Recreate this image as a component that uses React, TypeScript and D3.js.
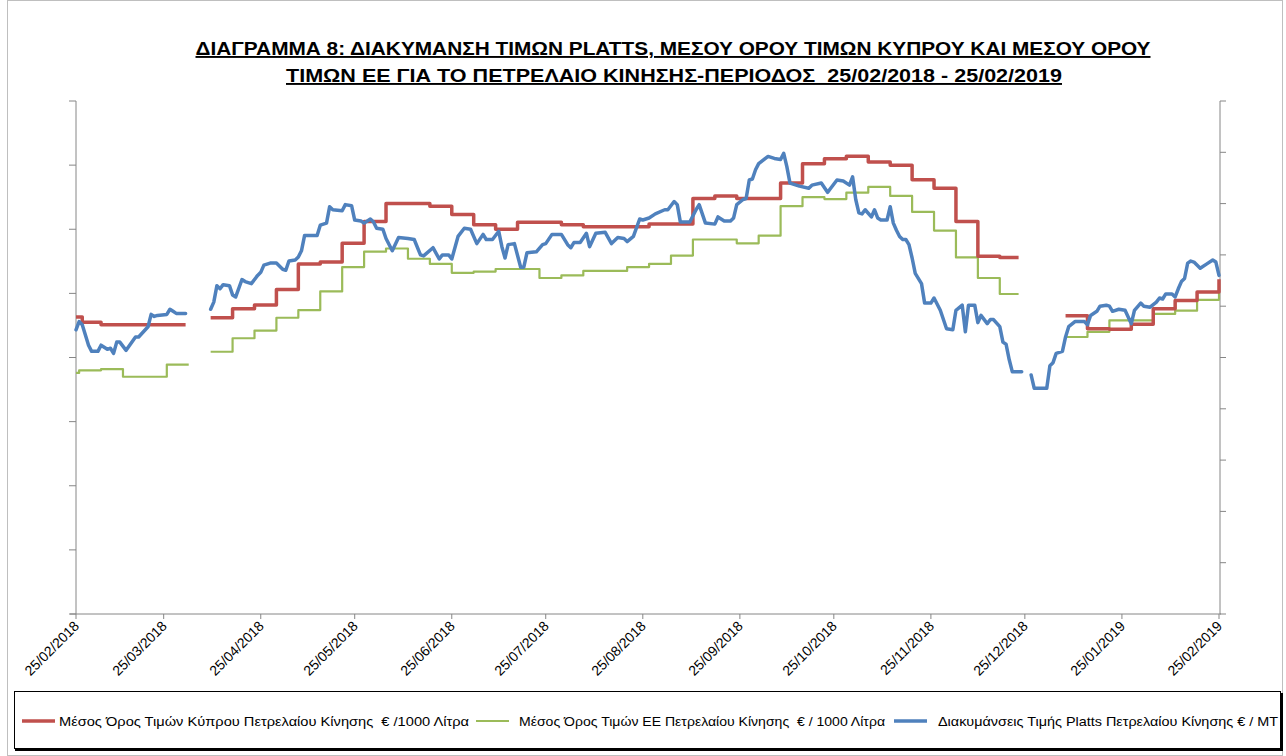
import React from "react";
import * as d3 from "d3";

// Διάγραμμα 8 — Platts vs μέσος όρος Κύπρου / ΕΕ, πετρέλαιο κίνησης
// Values (the y axes have no labels there).

const W = 1286;
const H = 756;
const M = { left: 76, right: 1219, top: 101, bottom: 614 };

const TITLE_1 = "ΔΙΑΓΡΑΜΜΑ 8: ΔΙΑΚΥΜΑΝΣΗ ΤΙΜΩΝ PLATTS, ΜΕΣΟΥ ΟΡΟΥ ΤΙΜΩΝ ΚΥΠΡΟΥ ΚΑΙ ΜΕΣΟΥ ΟΡΟΥ";
const TITLE_2 = "ΤΙΜΩΝ ΕΕ ΓΙΑ ΤΟ ΠΕΤΡΕΛΑΙΟ ΚΙΝΗΣΗΣ-ΠΕΡΙΟΔΟΣ  25/02/2018 - 25/02/2019";

const tickDates = [
  "2018-02-25", "2018-03-25", "2018-04-25", "2018-05-25", "2018-06-25", "2018-07-25",
  "2018-08-25", "2018-09-25", "2018-10-25", "2018-11-25", "2018-12-25", "2019-01-25", "2019-02-25",
];

// Cyprus average, €/1000 L (weekly steps); null = gap in the source
const cyprusDates = [
  "2018-02-25", "2018-02-27", "2018-03-05", "2018-04-01", "2018-04-05",
  "2018-04-09", "2018-04-16", "2018-04-23", "2018-04-30", "2018-05-07", "2018-05-14", "2018-05-21",
  "2018-05-28", "2018-06-04", "2018-06-18", "2018-06-25", "2018-07-02", "2018-07-09", "2018-07-16",
  "2018-07-30", "2018-08-06", "2018-08-27", "2018-09-10", "2018-09-17", "2018-09-24", "2018-10-08",
  "2018-10-15", "2018-10-22", "2018-10-29", "2018-11-05", "2018-11-12", "2018-11-19", "2018-11-26",
  "2018-12-03", "2018-12-10", "2018-12-17", "2018-12-23", "2018-12-30",
  "2019-01-07", "2019-01-14", "2019-01-21", "2019-01-28", "2019-02-04", "2019-02-11", "2019-02-18",
  "2019-02-24", "2019-02-25",
];
const cyprusValues = [
  1063, 1055, 1051, 1051, null,
  1062, 1076, 1082, 1106, 1146, 1149, 1178,
  1212, 1240, 1236, 1223, 1207, 1200, 1211,
  1207, 1204, 1208, 1248, 1252, 1248, 1272,
  1302, 1310, 1314, 1305, 1300, 1277, 1264,
  1212, 1158, 1156, 1156, null,
  1065, 1045, 1044, 1052, 1076, 1089, 1102,
  1102, 1122,
];

// EU average, €/1000 L
const euDates = [
  "2018-02-25", "2018-02-26", "2018-03-05", "2018-03-12", "2018-03-26", "2018-04-02", "2018-04-05",
  "2018-04-09", "2018-04-16", "2018-04-23", "2018-04-30", "2018-05-07", "2018-05-14", "2018-05-21",
  "2018-05-28", "2018-06-04", "2018-06-11", "2018-06-18", "2018-06-25", "2018-07-02", "2018-07-09",
  "2018-07-23", "2018-07-30", "2018-08-06", "2018-08-20", "2018-08-27", "2018-09-03", "2018-09-10",
  "2018-09-24", "2018-10-01", "2018-10-08", "2018-10-15", "2018-10-22", "2018-10-29", "2018-11-05",
  "2018-11-12", "2018-11-19", "2018-11-26", "2018-12-03", "2018-12-10", "2018-12-17", "2018-12-23",
  "2018-12-30",
  "2019-01-07", "2019-01-14", "2019-01-21", "2019-02-04", "2019-02-11", "2019-02-18", "2019-02-24",
  "2019-02-25",
];
const euValues = [
  976, 980, 982, 970, 989, 989, null,
  1009, 1030, 1042, 1062, 1074, 1103, 1141,
  1165, 1170, 1154, 1146, 1132, 1134, 1138,
  1124, 1128, 1135, 1141, 1146, 1159, 1184,
  1178, 1190, 1236, 1250, 1247, 1257, 1266,
  1252, 1227, 1198, 1156, 1124, 1099, 1099,
  null,
  1032, 1040, 1058, 1068, 1073, 1090, 1090,
  1116,
];

// Platts, €/MT (secondary axis)
const plattsDates = [
  "2018-02-25", "2018-02-26", "2018-02-27", "2018-03-01", "2018-03-02", "2018-03-04", "2018-03-05",
  "2018-03-07", "2018-03-08", "2018-03-09", "2018-03-10", "2018-03-11", "2018-03-13", "2018-03-16",
  "2018-03-17", "2018-03-20", "2018-03-21", "2018-03-22", "2018-03-23", "2018-03-26", "2018-03-27",
  "2018-03-28", "2018-03-29", "2018-04-01", "2018-04-05",
  "2018-04-09", "2018-04-10", "2018-04-11", "2018-04-12", "2018-04-13", "2018-04-15", "2018-04-16",
  "2018-04-17", "2018-04-19", "2018-04-20", "2018-04-22", "2018-04-24", "2018-04-25", "2018-04-26",
  "2018-04-28", "2018-04-30", "2018-05-02", "2018-05-03", "2018-05-04", "2018-05-06", "2018-05-07",
  "2018-05-08", "2018-05-09", "2018-05-10", "2018-05-13", "2018-05-14", "2018-05-16", "2018-05-17",
  "2018-05-18", "2018-05-21", "2018-05-22", "2018-05-24", "2018-05-25", "2018-05-27", "2018-05-28",
  "2018-05-30", "2018-05-31", "2018-06-01", "2018-06-03", "2018-06-04", "2018-06-06", "2018-06-08",
  "2018-06-11", "2018-06-13", "2018-06-15", "2018-06-16", "2018-06-19", "2018-06-21", "2018-06-22",
  "2018-06-24", "2018-06-25", "2018-06-27", "2018-06-29", "2018-07-01", "2018-07-03", "2018-07-05",
  "2018-07-06", "2018-07-08", "2018-07-10", "2018-07-11", "2018-07-12", "2018-07-13", "2018-07-15",
  "2018-07-17", "2018-07-18", "2018-07-19", "2018-07-22", "2018-07-24", "2018-07-25", "2018-07-27",
  "2018-07-30", "2018-08-01", "2018-08-02", "2018-08-03", "2018-08-05", "2018-08-07", "2018-08-08",
  "2018-08-10", "2018-08-13", "2018-08-15", "2018-08-17", "2018-08-19", "2018-08-20", "2018-08-22",
  "2018-08-24", "2018-08-25", "2018-08-27", "2018-08-29", "2018-09-01", "2018-09-02", "2018-09-04",
  "2018-09-05", "2018-09-06", "2018-09-09", "2018-09-11", "2018-09-12", "2018-09-14", "2018-09-17",
  "2018-09-18", "2018-09-20", "2018-09-22", "2018-09-23", "2018-09-24", "2018-09-26", "2018-09-27",
  "2018-09-28", "2018-09-29", "2018-09-30", "2018-10-01", "2018-10-04", "2018-10-06", "2018-10-08",
  "2018-10-09", "2018-10-10", "2018-10-11", "2018-10-14", "2018-10-17", "2018-10-18", "2018-10-21",
  "2018-10-23", "2018-10-24", "2018-10-26", "2018-10-28", "2018-10-30", "2018-10-31", "2018-11-01",
  "2018-11-02", "2018-11-03", "2018-11-04", "2018-11-06", "2018-11-07", "2018-11-08", "2018-11-09",
  "2018-11-11", "2018-11-12", "2018-11-13", "2018-11-14", "2018-11-15", "2018-11-16", "2018-11-17",
  "2018-11-18", "2018-11-19", "2018-11-20", "2018-11-22", "2018-11-23", "2018-11-25", "2018-11-26",
  "2018-11-28", "2018-11-30", "2018-12-02", "2018-12-03", "2018-12-05", "2018-12-06", "2018-12-07",
  "2018-12-09", "2018-12-10", "2018-12-11", "2018-12-13", "2018-12-14", "2018-12-15", "2018-12-17",
  "2018-12-18", "2018-12-19", "2018-12-20", "2018-12-21", "2018-12-24", "2018-12-25",
  "2018-12-27", "2018-12-28", "2019-01-01", "2019-01-02", "2019-01-03", "2019-01-04", "2019-01-06",
  "2019-01-07", "2019-01-08", "2019-01-10", "2019-01-13", "2019-01-14", "2019-01-15", "2019-01-17",
  "2019-01-18", "2019-01-20", "2019-01-21", "2019-01-22", "2019-01-24", "2019-01-26", "2019-01-28",
  "2019-01-29", "2019-01-31", "2019-02-01", "2019-02-03", "2019-02-05", "2019-02-06", "2019-02-07",
  "2019-02-08", "2019-02-10", "2019-02-11", "2019-02-12", "2019-02-13", "2019-02-14", "2019-02-15",
  "2019-02-16", "2019-02-17", "2019-02-19", "2019-02-21", "2019-02-23", "2019-02-24", "2019-02-25",
];
const plattsValues = [
  577, 585, 582, 562, 556, 556, 562,
  558, 559, 554, 565, 565, 557, 570,
  570, 580, 592, 590, 591, 592, 597,
  595, 593, 593, null,
  597, 604, 620, 617, 621, 620, 611,
  609, 626, 624, 622, 630, 633, 640,
  642, 642, 636, 635, 644, 645, 648,
  654, 669, 669, 669, 679, 681, 697,
  694, 693, 699, 698, 684, 683, 681,
  685, 682, 676, 675, 666, 654, 667,
  666, 665, 650, 649, 657, 646, 650,
  650, 646, 668, 676, 675, 661, 670,
  665, 665, 673, 658, 647, 660, 661,
  638, 638, 652, 653, 660, 661, 670,
  670, 660, 657, 662, 662, 671, 658,
  671, 672, 661, 667, 666, 663, 668,
  685, 684, 686, 690, 694, 694, 702,
  699, 682, 682, 694, 699, 681, 680,
  687, 683, 683, 686, 699, 704, 705,
  723, 724, 733, 739, 746, 744, 743,
  749, 736, 720, 717, 715, 718, 720,
  711, 715, 723, 722, 718, 726, 704,
  691, 690, 694, 687, 694, 686, 684,
  684, 697, 681, 674, 668, 665, 665,
  660, 647, 632, 622, 603, 603, 608,
  596, 578, 577, 596, 601, 575, 601,
  601, 584, 591, 583, 587, 587, 580,
  565, 563, 548, 536, 536, null,
  533, 520, 520, 542, 545, 554, 556,
  570, 580, 585, 585, 582, 591, 595,
  600, 601, 600, 595, 597, 596, 583,
  596, 603, 600, 599, 604, 608, 607,
  612, 612, 609, 617, 624, 627, 642,
  644, 643, 637, 641, 645, 643, 630,
];

const LEGEND = [
  { label: "Μέσος Όρος Τιμών Κύπρου Πετρελαίου Κίνησης  € /1000 Λίτρα", color: "#C0504D", width: 3.5 },
  { label: "Μέσος Όρος Τιμών ΕΕ Πετρελαίου Κίνησης  € / 1000 Λίτρα", color: "#9BBB59", width: 2.2 },
  { label: "Διακυμάνσεις Τιμής Platts Πετρελαίου Κίνησης € / MT", color: "#4F81BD", width: 3.5 },
];

const AXIS = "#868686";
const FONT = "'Liberation Sans', Arial, sans-serif";

const parse = d3.timeParse("%Y-%m-%d");
const fmt = d3.timeFormat("%d/%m/%Y");

type Pt = [Date, number | null];
const zip = (dates: string[], values: (number | null)[]): Pt[] =>
  dates.map((d, i) => [parse(d) as Date, values[i]]);

export default function App() {
  const x = d3
    .scaleTime()
    .domain([parse("2018-02-25") as Date, parse("2019-02-25") as Date])
    .range([M.left, M.right]);
  const yLeft = d3.scaleLinear().domain([600, 1400]).range([M.bottom, M.top]);
  const yRight = d3.scaleLinear().domain([300, 800]).range([M.bottom, M.top]);

  const stepLine = (y: d3.ScaleLinear<number, number>) =>
    d3
      .line<Pt>()
      .defined((d) => d[1] != null)
      .x((d) => x(d[0]))
      .y((d) => y(d[1] as number))
      .curve(d3.curveStepAfter);

  const cyprusPath = stepLine(yLeft)(zip(cyprusDates, cyprusValues)) ?? "";
  const euPath = stepLine(yLeft)(zip(euDates, euValues)) ?? "";
  const plattsPath =
    d3
      .line<Pt>()
      .defined((d) => d[1] != null)
      .x((d) => x(d[0]))
      .y((d) => yRight(d[1] as number))
      .curve(d3.curveLinear)(zip(plattsDates, plattsValues)) ?? "";

  const rightX = M.right + 1;

  // legend layout (sample start, text start, text width)
  const legendPos = [
    { sx: 22, tx: 59, tw: 410 },
    { sx: 476, tx: 519, tw: 366 },
    { sx: 894, tx: 938, tw: 340 },
  ];

  return (
    <svg
      width={W}
      height={H}
      style={{ position: "absolute", left: 0, top: 0, background: "#fff" }}
      fontFamily={FONT}
    >
      <rect x={7.5} y={0.5} width={1275} height={755} fill="#fff" stroke="#bfbfbf" />

      {/* title */}
      <text
        x={673}
        y={55}
        textAnchor="middle"
        fontSize={19}
        fontWeight="bold"
        textDecoration="underline"
        textLength={955}
        lengthAdjust="spacingAndGlyphs"
        xmlSpace="preserve"
        style={{ whiteSpace: "pre" }}
      >
        {TITLE_1}
      </text>
      <text
        x={674}
        y={82}
        textAnchor="middle"
        fontSize={19}
        fontWeight="bold"
        textDecoration="underline"
        textLength={776}
        lengthAdjust="spacingAndGlyphs"
        xmlSpace="preserve"
        style={{ whiteSpace: "pre" }}
      >
        {TITLE_2}
      </text>

      {/* left axis (€/1000 L), no labels */}
      <line x1={M.left} x2={M.left} y1={M.top} y2={M.bottom} stroke={AXIS} />
      {yLeft.ticks(8).map((t) => (
        <line key={t} x1={M.left - 7} x2={M.left} y1={yLeft(t)} y2={yLeft(t)} stroke={AXIS} />
      ))}

      {/* right axis (€/MT), no labels */}
      <line x1={rightX} x2={rightX} y1={M.top} y2={M.bottom} stroke={AXIS} />
      {yRight.ticks(10).map((t) => (
        <line key={t} x1={rightX} x2={rightX + 6} y1={yRight(t)} y2={yRight(t)} stroke={AXIS} />
      ))}

      {/* date axis */}
      <line x1={M.left - 6} x2={rightX + 1} y1={M.bottom} y2={M.bottom} stroke={AXIS} />
      {tickDates.map((d) => {
        const tx = x(parse(d) as Date);
        return (
          <g key={d}>
            <line x1={tx} x2={tx} y1={M.bottom} y2={M.bottom + 5} stroke={AXIS} />
            <text
              transform={`translate(${tx + 4},${M.bottom + 13}) rotate(-45)`}
              textAnchor="end"
              fontSize={14}
              fill="#000"
            >
              {fmt(parse(d) as Date)}
            </text>
          </g>
        );
      })}

      {/* series */}
      <path d={euPath} fill="none" stroke={LEGEND[1].color} strokeWidth={LEGEND[1].width} strokeLinejoin="round" />
      <path d={cyprusPath} fill="none" stroke={LEGEND[0].color} strokeWidth={LEGEND[0].width} strokeLinejoin="round" />
      <path d={plattsPath} fill="none" stroke={LEGEND[2].color} strokeWidth={LEGEND[2].width} strokeLinejoin="round" strokeLinecap="round" />

      {/* legend */}
      <rect x={14.5} y={691.5} width={1266} height={57} fill="#fff" stroke="#000" />
      <line x1={15} x2={1282} y1={750} y2={750} stroke="#000" strokeWidth={2} />
      <line x1={1282} x2={1282} y1={693} y2={751} stroke="#000" strokeWidth={2} />
      {LEGEND.map((l, i) => {
        const p = legendPos[i];
        return (
          <g key={l.label}>
            <line x1={p.sx} x2={p.sx + 33} y1={721} y2={721} stroke={l.color} strokeWidth={l.width} />
            <text
              x={p.tx}
              y={726}
              fontSize={13}
              textLength={p.tw}
              lengthAdjust="spacingAndGlyphs"
              xmlSpace="preserve"
              style={{ whiteSpace: "pre" }}
            >
              {l.label}
            </text>
          </g>
        );
      })}
    </svg>
  );
}
